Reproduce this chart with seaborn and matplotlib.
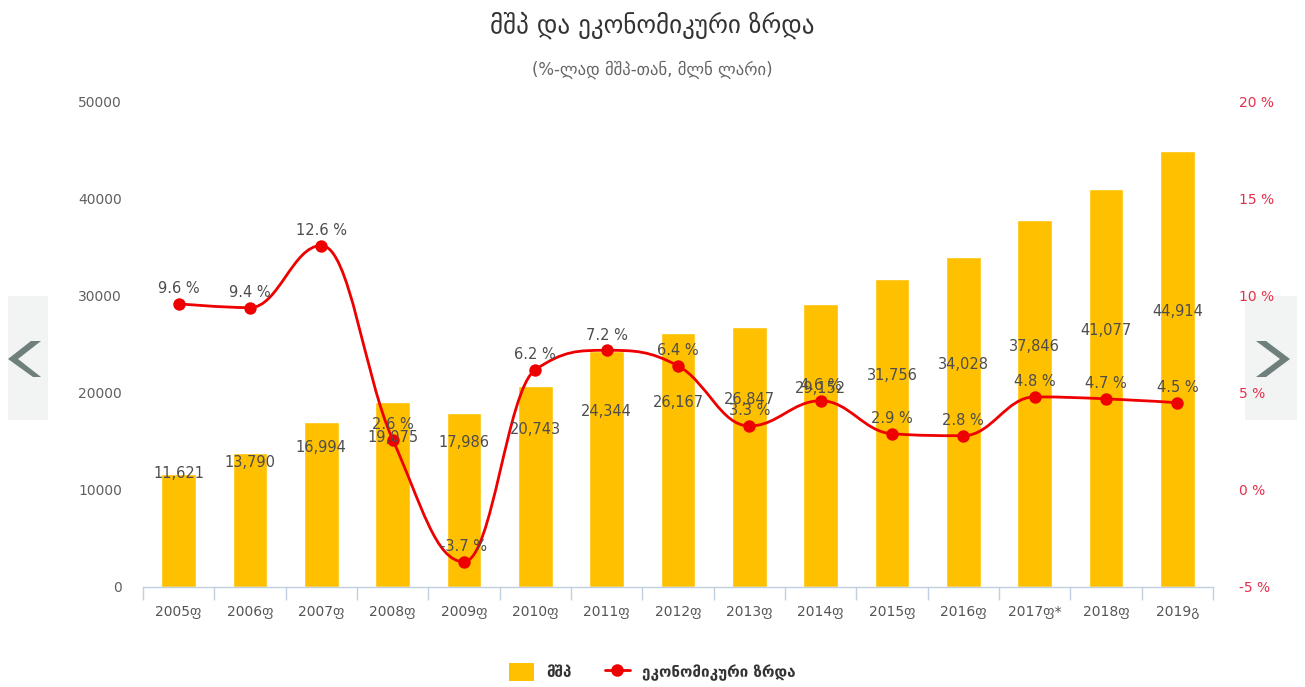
'''GDP and economic growth chart (Georgia, 2005-2019)'''
import numpy as np
import seaborn as sns
import matplotlib.pyplot as plt
from matplotlib.path import Path
from matplotlib.patches import PathPatch, Polygon, Rectangle

# Chart data
years = ['2005ფ', '2006ფ', '2007ფ', '2008ფ', '2009ფ', '2010ფ', '2011ფ', '2012ფ',
         '2013ფ', '2014ფ', '2015ფ', '2016ფ', '2017ფ*', '2018ფ', '2019გ']
gdp = [11621, 13790, 16994, 19075, 17986, 20743, 24344, 26167,
       26847, 29152, 31756, 34028, 37846, 41077, 44914]
growth = [9.6, 9.4, 12.6, 2.6, -3.7, 6.2, 7.2, 6.4, 3.3, 4.6, 2.9, 2.8, 4.8, 4.7, 4.5]
left_ticks = [0, 10000, 20000, 30000, 40000, 50000]
right_ticks = [-5, 0, 5, 10, 15, 20]

title = 'მშპ და ეკონომიკური ზრდა'
subtitle = '(%-ლად მშპ-თან, მლნ ლარი)'
bar_name = 'მშპ'
line_name = 'ეკონომიკური ზრდა'

BAR_COLOR = '#ffc000'
LINE_COLOR = '#ee0000'
AXIS_COLOR = '#c0d0e0'
LABEL_COLOR = '#4d4d4d'

W, H = 1305, 687


def spline_path(xs, ys, smoothing=1.5):
    '''Bezier path through the points, same control points as a Highcharts spline.'''
    denom = smoothing + 1
    n = len(xs)
    right = [None] * n
    verts = [(xs[0], ys[0])]
    codes = [Path.MOVETO]
    for i in range(1, n):
        px, py = xs[i], ys[i]
        left = (px, py)
        if i < n - 1:
            lx, ly = xs[i - 1], ys[i - 1]
            nx, ny = xs[i + 1], ys[i + 1]
            lcx = (smoothing * px + lx) / denom
            lcy = (smoothing * py + ly) / denom
            rcx = (smoothing * px + nx) / denom
            rcy = (smoothing * py + ny) / denom
            corr = 0
            if rcx != lcx:
                corr = (rcy - lcy) * (rcx - px) / (rcx - lcx) + py - rcy
            lcy += corr
            rcy += corr
            if lcy > ly and lcy > py:
                lcy = max(ly, py)
                rcy = 2 * py - lcy
            elif lcy < ly and lcy < py:
                lcy = min(ly, py)
                rcy = 2 * py - lcy
            if rcy > ny and rcy > py:
                rcy = max(ny, py)
                lcy = 2 * py - rcy
            elif rcy < ny and rcy < py:
                rcy = min(ny, py)
                lcy = 2 * py - rcy
            left = (lcx, lcy)
            right[i] = (rcx, rcy)
        prev_rc = right[i - 1] if right[i - 1] is not None else (xs[i - 1], ys[i - 1])
        verts += [prev_rc, left, (px, py)]
        codes += [Path.CURVE4] * 3
    return Path(verts, codes)


sns.set_theme(style='white')
plt.rcParams['font.family'] = ['DejaVu Sans']

fig = plt.figure(figsize=(W / 100, H / 100), dpi=100)
ax = fig.add_axes([143 / W, 1 - 587 / H, (1213 - 143) / W, (587 - 102) / H])

# Bars (GDP, left axis)
sns.barplot(x=years, y=gdp, color=BAR_COLOR, width=0.49, saturation=1, ax=ax, zorder=2)
ax.set_xlim(-0.5, len(years) - 0.5)
ax.set_ylim(left_ticks[0], left_ticks[-1])
ax.set_yticks(left_ticks)
ax.set_yticklabels([str(t) for t in left_ticks])
ax.set_xlabel('')
ax.set_ylabel('')

for side in ['left', 'right', 'top']:
    ax.spines[side].set_visible(False)
ax.spines['bottom'].set_color(AXIS_COLOR)
ax.spines['bottom'].set_linewidth(1)
ax.tick_params(axis='y', length=0, pad=15, labelsize=10, labelcolor='#606060')
ax.tick_params(axis='x', which='major', bottom=True, length=0, pad=13,
               labelsize=10, labelcolor='#555555')
ax.set_xticks(np.arange(len(years) + 1) - 0.5, minor=True)
ax.tick_params(axis='x', which='minor', bottom=True, length=9, width=1,
               color=AXIS_COLOR, direction='out')
ax.grid(False)

# Growth line (right axis)
ax2 = ax.twinx()
ax2.set_ylim(right_ticks[0], right_ticks[-1])
ax2.set_yticks(right_ticks)
ax2.set_yticklabels([f'{t} %' for t in right_ticks])
ax2.tick_params(axis='y', length=0, pad=19, labelsize=10, labelcolor='#e4304a')
for side in ['left', 'right', 'top', 'bottom']:
    ax2.spines[side].set_visible(False)
ax2.grid(False)

xs = np.arange(len(years))
ax2.add_patch(PathPatch(spline_path(list(xs), growth), facecolor='none',
                        edgecolor=LINE_COLOR, linewidth=2, zorder=3))
sns.scatterplot(x=xs, y=growth, color=LINE_COLOR, s=80, edgecolor=LINE_COLOR,
                linewidth=0, ax=ax2, zorder=4, legend=False)

# Data labels
for x, v in zip(xs, gdp):
    ax2.text(x, v / 2 + 5900, f'{v:,}', transform=ax.transData, ha='center', va='center',
             fontsize=10.5, color=LABEL_COLOR, zorder=6)
for x, g in zip(xs, growth):
    ax2.annotate(f'{g} %', (x, g), xytext=(0, 11), textcoords='offset points',
                 ha='center', va='center', fontsize=10.5, color=LABEL_COLOR, zorder=6)

# Titles
fig.text(0.5, 1 - 25 / H, title, ha='center', va='center', fontsize=18, color='#333333')
fig.text(0.5, 1 - 70 / H, subtitle, ha='center', va='center', fontsize=12, color='#666666')

# Legend
bar_handle = Rectangle((0, 0), 1, 1, facecolor=BAR_COLOR, edgecolor='none')
line_handle = plt.Line2D([], [], color=LINE_COLOR, linewidth=2, marker='o', markersize=8)
leg = fig.legend([bar_handle, line_handle], [bar_name, line_name], loc='center',
                 bbox_to_anchor=(0.5, 1 - 672 / H), ncol=2, frameon=False,
                 handlelength=1.6, handleheight=1.4, columnspacing=2.2,
                 prop={'size': 11, 'weight': 'bold'})
for t in leg.get_texts():
    t.set_color('#333333')


# Navigation arrows of the page slider
def px(x, y):
    return (x / W, 1 - y / H)


fig.patches.append(Rectangle(px(8, 420), 40 / W, 124 / H, transform=fig.transFigure,
                             facecolor='#f2f4f4', edgecolor='none', zorder=-2))
fig.patches.append(Rectangle(px(1245, 420), 52 / W, 124 / H, transform=fig.transFigure,
                             facecolor='#f2f4f4', edgecolor='none', zorder=-2))
left_arrow = [px(41, 341), px(18, 359), px(41, 377), px(33, 377), px(8, 359), px(31, 341)]
right_arrow = [px(1256, 341), px(1280, 359), px(1256, 377), px(1266, 377),
               px(1290, 359), px(1266, 341)]
for pts in (left_arrow, right_arrow):
    fig.patches.append(Polygon(pts, closed=True, transform=fig.transFigure,
                               facecolor='#6e7f7c', edgecolor='none', zorder=-1))

plt.savefig('out.png', dpi=100)
